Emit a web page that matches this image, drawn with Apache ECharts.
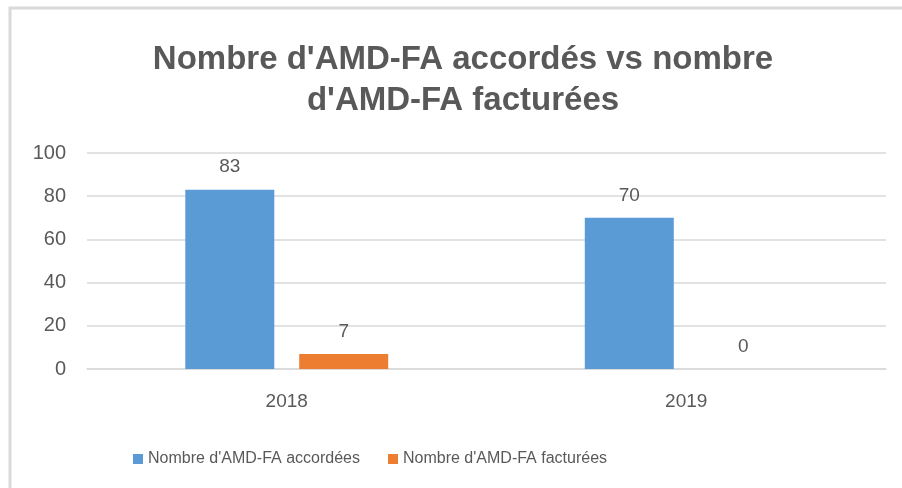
<!DOCTYPE html>
<html>
<head>
<meta charset="utf-8">
<script src="https://cdn.jsdelivr.net/npm/echarts@6/dist/echarts.min.js"></script>
<style>
  html, body { margin: 0; padding: 0; background: #ffffff; }
  #chart { width: 902px; height: 488px; }
</style>
</head>
<body>
<div id="chart"></div>
<script>
// Years on the category axis
const years = ['2018', '2019'];
// Number of AMD-FA granted per year
const accordees = [83, 70];
// Number of AMD-FA invoiced per year
const facturees = [7, 0];
// Value axis ticks
const yMin = 0;
const yMax = 100;
const yStep = 20;

const seriesNames = ["Nombre d'AMD-FA accordées", "Nombre d'AMD-FA facturées"];
const titleText = "Nombre d'AMD-FA accordés vs nombre\nd'AMD-FA facturées";

const textColor = '#595959';
const gridColor = '#d9d9d9';
const baseFont = "'Liberation Sans', Arial, sans-serif";

const chart = echarts.init(document.getElementById('chart'));

const barLabel = {
  show: true,
  position: 'top',
  distance: 13,
  color: textColor,
  fontSize: 19,
  fontFamily: baseFont
};

chart.setOption({
  animation: false,
  backgroundColor: '#ffffff',
  graphic: [{
    type: 'rect',
    silent: true,
    shape: { x: 10, y: 8, width: 1200, height: 1200 },
    style: { fill: 'none', stroke: gridColor, lineWidth: 3 }
  }],
  title: {
    text: titleText,
    left: 458,
    top: 34,
    textAlign: 'center',
    textStyle: {
      color: textColor,
      fontSize: 33,
      fontWeight: 'bold',
      lineHeight: 41,
      fontFamily: baseFont
    }
  },
  legend: {
    left: 128,
    top: 446,
    itemWidth: 10,
    itemHeight: 10,
    itemGap: 28,
    icon: 'rect',
    textStyle: {
      color: textColor,
      fontSize: 16,
      fontFamily: baseFont
    },
    data: seriesNames
  },
  grid: {
    left: 87,
    right: 16,
    top: 153,
    bottom: 119,
    containLabel: false
  },
  xAxis: {
    type: 'category',
    data: years,
    axisLine: { show: true, lineStyle: { color: gridColor, width: 1.5 } },
    axisTick: { show: false },
    axisLabel: {
      color: textColor,
      fontSize: 19,
      margin: 23,
      fontFamily: baseFont
    }
  },
  yAxis: {
    type: 'value',
    min: yMin,
    max: yMax,
    interval: yStep,
    axisLine: { show: false },
    axisTick: { show: false },
    axisLabel: {
      color: textColor,
      fontSize: 20,
      margin: 21,
      fontFamily: baseFont
    },
    splitLine: { lineStyle: { color: gridColor, width: 1.5 } }
  },
  series: [
    {
      name: seriesNames[0],
      type: 'bar',
      data: accordees,
      barWidth: 89,
      barGap: '28%',
      itemStyle: { color: '#5B9BD5' },
      label: barLabel
    },
    {
      name: seriesNames[1],
      type: 'bar',
      data: facturees,
      barWidth: 89,
      itemStyle: { color: '#ED7D31' },
      label: barLabel
    }
  ]
});
</script>
</body>
</html>
